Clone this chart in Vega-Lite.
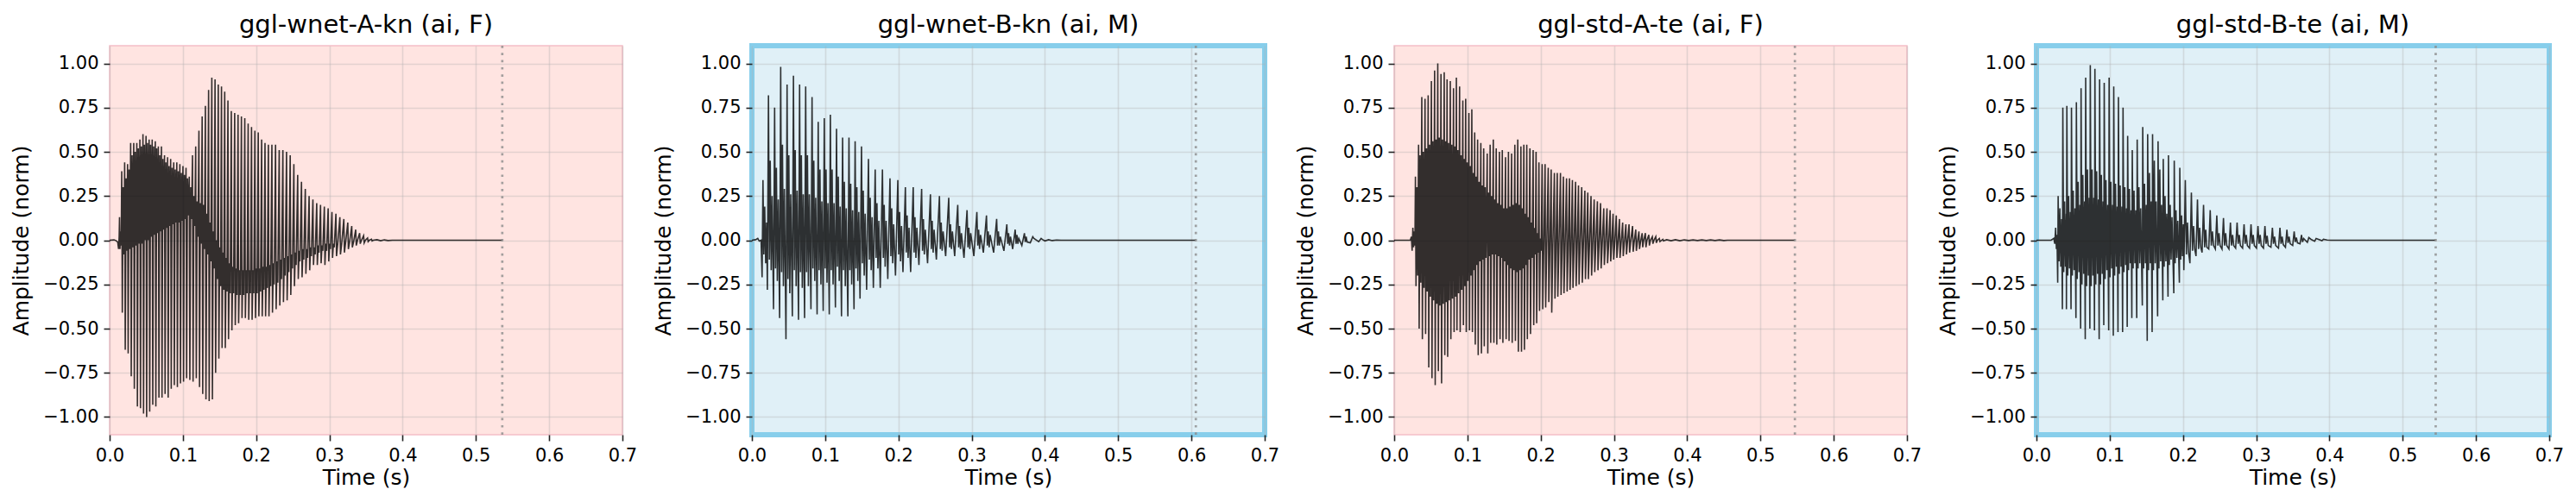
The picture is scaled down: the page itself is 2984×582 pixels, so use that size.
{
  "$schema": "https://vega.github.io/schema/vega-lite/v6.json",
  "background": "white",
  "padding": {"left": 11, "top": 11, "right": 5, "bottom": 5},
  "spacing": 150,
  "bounds": "flush",
  "config": {
    "font": "DejaVu Sans",
    "view": {"stroke": null},
    "axis": {
      "domain": false,
      "grid": true,
      "gridColor": "#b0b0b0",
      "gridOpacity": 0.35,
      "gridWidth": 1.6,
      "tickColor": "#222222",
      "tickSize": 7,
      "tickWidth": 1.6,
      "labelFont": "DejaVu Sans",
      "labelFontSize": 21,
      "labelColor": "#000000",
      "labelPadding": 6,
      "titleFont": "DejaVu Sans",
      "titleFontSize": 25,
      "titleFontWeight": "normal",
      "titleColor": "#000000"
    },
    "axisX": {"labelFlush": false, "titlePadding": 3},
    "axisY": {"titlePadding": 12},
    "title": {"font": "DejaVu Sans", "fontSize": 29, "fontWeight": "normal", "color": "#000000", "offset": 8, "anchor": "middle", "frame": "group"}
  },
  "datasets": {
    "w1": [
      {"t":0,"a":0},{"t":0.006,"a":0.002},{"t":0.009,"a":-0.003},{"t":0.011,"a":-0.01},{"t":0.0122,"a":-0.05},{"t":0.013,"a":0.02},
      {"t":0.0135,"a":0.13},{"t":0.0141,"a":-0.05},{"t":0.015,"a":0.05},{"t":0.0158,"a":-0.03},
      {"t":0.0165,"a":0.39},{"t":0.0173,"a":-0.41},{"t":0.0185,"a":0.3},{"t":0.0196,"a":-0.08},
      {"t":0.0205,"a":0.44},{"t":0.0213,"a":-0.62},{"t":0.0225,"a":0.35},{"t":0.0236,"a":-0.06},
      {"t":0.0245,"a":0.43},{"t":0.0253,"a":-0.64},{"t":0.0265,"a":0.4},{"t":0.0276,"a":-0.05},
      {"t":0.0287,"a":0.55},{"t":0.0295,"a":-0.77},{"t":0.0307,"a":0.48},{"t":0.0318,"a":-0.04},
      {"t":0.0329,"a":0.55},{"t":0.0337,"a":-0.84},{"t":0.0349,"a":0.5},{"t":0.036,"a":-0.03},
      {"t":0.0371,"a":0.55},{"t":0.0379,"a":-0.94},{"t":0.0391,"a":0.52},{"t":0.0402,"a":-0.02},
      {"t":0.0413,"a":0.57},{"t":0.0421,"a":-0.95},{"t":0.0433,"a":0.53},{"t":0.0444,"a":-0.02},
      {"t":0.0455,"a":0.6},{"t":0.0463,"a":-0.98},{"t":0.0475,"a":0.54},{"t":0.0486,"a":0},
      {"t":0.0497,"a":0.59},{"t":0.0505,"a":-1.0},{"t":0.0517,"a":0.55},{"t":0.0528,"a":0},
      {"t":0.0539,"a":0.57},{"t":0.0547,"a":-0.97},{"t":0.0559,"a":0.54},{"t":0.057,"a":0.02},
      {"t":0.0581,"a":0.57},{"t":0.0589,"a":-0.93},{"t":0.0601,"a":0.53},{"t":0.0612,"a":0.03},
      {"t":0.0623,"a":0.56},{"t":0.0631,"a":-0.94},{"t":0.0643,"a":0.52},{"t":0.0654,"a":0.04},
      {"t":0.0665,"a":0.53},{"t":0.0673,"a":-0.89},{"t":0.0685,"a":0.48},{"t":0.0696,"a":0.05},
      {"t":0.0707,"a":0.53},{"t":0.0715,"a":-0.89},{"t":0.0727,"a":0.46},{"t":0.0738,"a":0.06},
      {"t":0.0749,"a":0.48},{"t":0.0757,"a":-0.87},{"t":0.0769,"a":0.44},{"t":0.078,"a":0.07},
      {"t":0.0791,"a":0.47},{"t":0.0799,"a":-0.89},{"t":0.0811,"a":0.42},{"t":0.0822,"a":0.08},
      {"t":0.0833,"a":0.46},{"t":0.0841,"a":-0.84},{"t":0.0853,"a":0.41},{"t":0.0864,"a":0.09},
      {"t":0.0875,"a":0.44},{"t":0.0883,"a":-0.82},{"t":0.0895,"a":0.4},{"t":0.0906,"a":0.1},
      {"t":0.0917,"a":0.44},{"t":0.0925,"a":-0.83},{"t":0.0937,"a":0.39},{"t":0.0948,"a":0.1},
      {"t":0.0959,"a":0.43},{"t":0.0967,"a":-0.81},{"t":0.0979,"a":0.38},{"t":0.099,"a":0.11},
      {"t":0.1001,"a":0.42},{"t":0.1009,"a":-0.8},{"t":0.1021,"a":0.37},{"t":0.1032,"a":0.12},
      {"t":0.1043,"a":0.41},{"t":0.1051,"a":-0.78},{"t":0.1063,"a":0.35},{"t":0.1074,"a":0.14},
      {"t":0.1087,"a":0.36},{"t":0.1095,"a":-0.79},{"t":0.1107,"a":0.3},{"t":0.1118,"a":0.12},
      {"t":0.1131,"a":0.48},{"t":0.1139,"a":-0.8},{"t":0.1151,"a":0.25},{"t":0.1162,"a":0.08},
      {"t":0.1175,"a":0.53},{"t":0.1183,"a":-0.78},{"t":0.1195,"a":0.22},{"t":0.1206,"a":0.02},
      {"t":0.1219,"a":0.62},{"t":0.1227,"a":-0.83},{"t":0.1239,"a":0.21},{"t":0.125,"a":-0.02},
      {"t":0.1263,"a":0.7},{"t":0.1271,"a":-0.87},{"t":0.1283,"a":0.2},{"t":0.1294,"a":-0.05},
      {"t":0.1307,"a":0.76},{"t":0.1315,"a":-0.9},{"t":0.1327,"a":0.15},{"t":0.1338,"a":-0.08},
      {"t":0.1351,"a":0.85},{"t":0.1359,"a":-0.91},{"t":0.1371,"a":0.1},{"t":0.1382,"a":-0.12},
      {"t":0.1395,"a":0.92},{"t":0.1403,"a":-0.9},{"t":0.1415,"a":0.05},{"t":0.1426,"a":-0.16},
      {"t":0.1439,"a":0.91},{"t":0.1447,"a":-0.75},{"t":0.1459,"a":0},{"t":0.147,"a":-0.22},
      {"t":0.1483,"a":0.88},{"t":0.1491,"a":-0.67},{"t":0.1503,"a":-0.04},{"t":0.1514,"a":-0.26},
      {"t":0.1527,"a":0.87},{"t":0.1535,"a":-0.61},{"t":0.1547,"a":-0.07},{"t":0.1558,"a":-0.28},
      {"t":0.1571,"a":0.84},{"t":0.1579,"a":-0.61},{"t":0.1591,"a":-0.1},{"t":0.1602,"a":-0.29},
      {"t":0.1615,"a":0.79},{"t":0.1623,"a":-0.56},{"t":0.1635,"a":-0.13},{"t":0.1646,"a":-0.3},
      {"t":0.1661,"a":0.73},{"t":0.1669,"a":-0.51},{"t":0.1681,"a":-0.15},{"t":0.1692,"a":-0.3},
      {"t":0.1707,"a":0.72},{"t":0.1715,"a":-0.48},{"t":0.1727,"a":-0.16},{"t":0.1738,"a":-0.31},
      {"t":0.1753,"a":0.71},{"t":0.1761,"a":-0.47},{"t":0.1773,"a":-0.17},{"t":0.1784,"a":-0.31},
      {"t":0.1799,"a":0.7},{"t":0.1807,"a":-0.44},{"t":0.1819,"a":-0.17},{"t":0.183,"a":-0.31},
      {"t":0.1845,"a":0.69},{"t":0.1853,"a":-0.44},{"t":0.1865,"a":-0.17},{"t":0.1876,"a":-0.3},
      {"t":0.1891,"a":0.66},{"t":0.1899,"a":-0.45},{"t":0.1911,"a":-0.17},{"t":0.1922,"a":-0.3},
      {"t":0.1937,"a":0.64},{"t":0.1945,"a":-0.45},{"t":0.1957,"a":-0.17},{"t":0.1968,"a":-0.3},
      {"t":0.1983,"a":0.62},{"t":0.1991,"a":-0.44},{"t":0.2003,"a":-0.16},{"t":0.2014,"a":-0.3},
      {"t":0.2029,"a":0.61},{"t":0.2037,"a":-0.43},{"t":0.2049,"a":-0.16},{"t":0.206,"a":-0.29},
      {"t":0.2075,"a":0.57},{"t":0.2083,"a":-0.43},{"t":0.2095,"a":-0.15},{"t":0.2106,"a":-0.28},
      {"t":0.2121,"a":0.55},{"t":0.2129,"a":-0.43},{"t":0.2141,"a":-0.15},{"t":0.2152,"a":-0.27},
      {"t":0.2167,"a":0.54},{"t":0.2175,"a":-0.43},{"t":0.2187,"a":-0.14},{"t":0.2198,"a":-0.26},
      {"t":0.2215,"a":0.54},{"t":0.2223,"a":-0.41},{"t":0.2235,"a":-0.13},{"t":0.2246,"a":-0.25},
      {"t":0.2265,"a":0.54},{"t":0.2273,"a":-0.39},{"t":0.2285,"a":-0.12},{"t":0.2296,"a":-0.24},
      {"t":0.2315,"a":0.51},{"t":0.2323,"a":-0.37},{"t":0.2335,"a":-0.11},{"t":0.2346,"a":-0.22},
      {"t":0.2365,"a":0.51},{"t":0.2373,"a":-0.35},{"t":0.2385,"a":-0.1},{"t":0.2396,"a":-0.2},
      {"t":0.2415,"a":0.5},{"t":0.2423,"a":-0.34},{"t":0.2435,"a":-0.09},{"t":0.2446,"a":-0.18},
      {"t":0.2465,"a":0.48},{"t":0.2473,"a":-0.31},{"t":0.2485,"a":-0.08},{"t":0.2496,"a":-0.16},
      {"t":0.2515,"a":0.43},{"t":0.2523,"a":-0.26},{"t":0.2535,"a":-0.07},{"t":0.2546,"a":-0.14},
      {"t":0.2567,"a":0.37},{"t":0.2575,"a":-0.22},{"t":0.2587,"a":-0.06},{"t":0.2598,"a":-0.12},
      {"t":0.2619,"a":0.33},{"t":0.2627,"a":-0.21},{"t":0.2639,"a":-0.05},{"t":0.265,"a":-0.11},
      {"t":0.2671,"a":0.29},{"t":0.2679,"a":-0.19},{"t":0.2691,"a":-0.05},{"t":0.2702,"a":-0.1},
      {"t":0.2723,"a":0.25},{"t":0.2731,"a":-0.17},{"t":0.2743,"a":-0.04},{"t":0.2754,"a":-0.09},
      {"t":0.2775,"a":0.23},{"t":0.2783,"a":-0.14},{"t":0.2795,"a":-0.04},{"t":0.2806,"a":-0.08},
      {"t":0.2827,"a":0.21},{"t":0.2835,"a":-0.14},{"t":0.2847,"a":-0.03},{"t":0.2858,"a":-0.07},
      {"t":0.2879,"a":0.2},{"t":0.2887,"a":-0.13},{"t":0.2899,"a":-0.03},{"t":0.291,"a":-0.06},
      {"t":0.2931,"a":0.19},{"t":0.2939,"a":-0.14},{"t":0.2951,"a":-0.02},{"t":0.2962,"a":-0.06},
      {"t":0.2983,"a":0.18},{"t":0.2991,"a":-0.12},{"t":0.3003,"a":-0.02},{"t":0.3014,"a":-0.05},
      {"t":0.3035,"a":0.16},{"t":0.3043,"a":-0.1},{"t":0.3055,"a":-0.02},{"t":0.3066,"a":-0.04},
      {"t":0.3089,"a":0.15},{"t":0.3097,"a":-0.09},{"t":0.3114,"a":-0.02},
      {"t":0.3143,"a":0.13},{"t":0.3151,"a":-0.08},{"t":0.3168,"a":-0.02},
      {"t":0.3197,"a":0.12},{"t":0.3205,"a":-0.07},{"t":0.3222,"a":-0.01},
      {"t":0.3251,"a":0.1},{"t":0.3259,"a":-0.05},{"t":0.3276,"a":-0.01},
      {"t":0.3305,"a":0.08},{"t":0.3313,"a":-0.04},{"t":0.333,"a":-0.01},
      {"t":0.3359,"a":0.06},{"t":0.3367,"a":-0.03},{"t":0.3384,"a":0},
      {"t":0.3413,"a":0.04},{"t":0.3421,"a":-0.02},{"t":0.3438,"a":0},
      {"t":0.3467,"a":0.025},{"t":0.3475,"a":-0.015},{"t":0.3492,"a":0},
      {"t":0.3521,"a":0.012},{"t":0.3529,"a":-0.008},{"t":0.3546,"a":0},
      {"t":0.3575,"a":0.006},{"t":0.3583,"a":-0.004},{"t":0.36,"a":0},
      {"t":0.365,"a":0.003},{"t":0.37,"a":-0.003},{"t":0.375,"a":0.002},{"t":0.38,"a":-0.002},{"t":0.386,"a":0},{"t":0.536,"a":0}
    ],
    "w2": [
      {"t":0,"a":0},{"t":0.005,"a":0.003},{"t":0.008,"a":0.01},{"t":0.01,"a":-0.005},{"t":0.0125,"a":0},
      {"t":0.0139,"a":-0.21},{"t":0.0151,"a":0.34},{"t":0.0163,"a":-0.08},{"t":0.0175,"a":0.19},{"t":0.0188,"a":-0.13},{"t":0.0201,"a":0.1},
      {"t":0.0211,"a":-0.28},{"t":0.0226,"a":0.82},{"t":0.0238,"a":-0.11},{"t":0.025,"a":0.45},{"t":0.0263,"a":-0.17},{"t":0.0276,"a":0.25},
      {"t":0.0295,"a":-0.39},{"t":0.031,"a":0.75},{"t":0.0322,"a":-0.16},{"t":0.0334,"a":0.41},{"t":0.0347,"a":-0.23},{"t":0.036,"a":0.23},
      {"t":0.0378,"a":-0.44},{"t":0.0393,"a":0.98},{"t":0.0405,"a":-0.18},{"t":0.0417,"a":0.54},{"t":0.043,"a":-0.26},{"t":0.0443,"a":0.29},
      {"t":0.0465,"a":-0.56},{"t":0.048,"a":0.88},{"t":0.0492,"a":-0.22},{"t":0.0504,"a":0.48},{"t":0.0517,"a":-0.3},{"t":0.053,"a":0.26},
      {"t":0.0552,"a":-0.43},{"t":0.0567,"a":0.93},{"t":0.0579,"a":-0.17},{"t":0.0591,"a":0.51},{"t":0.0604,"a":-0.26},{"t":0.0617,"a":0.28},
      {"t":0.0636,"a":-0.45},{"t":0.0651,"a":0.88},{"t":0.0663,"a":-0.18},{"t":0.0675,"a":0.48},{"t":0.0688,"a":-0.27},{"t":0.0701,"a":0.26},
      {"t":0.0719,"a":-0.44},{"t":0.0734,"a":0.87},{"t":0.0746,"a":-0.18},{"t":0.0758,"a":0.48},{"t":0.0771,"a":-0.26},{"t":0.0784,"a":0.26},
      {"t":0.0806,"a":-0.39},{"t":0.0821,"a":0.81},{"t":0.0833,"a":-0.16},{"t":0.0845,"a":0.45},{"t":0.0858,"a":-0.23},{"t":0.0871,"a":0.24},
      {"t":0.089,"a":-0.42},{"t":0.0905,"a":0.67},{"t":0.0917,"a":-0.17},{"t":0.0929,"a":0.4},{"t":0.0942,"a":-0.25},{"t":0.0955,"a":0.22},
      {"t":0.0973,"a":-0.4},{"t":0.0988,"a":0.69},{"t":0.1,"a":-0.16},{"t":0.1012,"a":0.4},{"t":0.1025,"a":-0.24},{"t":0.1038,"a":0.21},
      {"t":0.1056,"a":-0.42},{"t":0.1071,"a":0.71},{"t":0.1083,"a":-0.17},{"t":0.1095,"a":0.4},{"t":0.1108,"a":-0.25},{"t":0.1121,"a":0.21},
      {"t":0.114,"a":-0.38},{"t":0.1155,"a":0.63},{"t":0.1167,"a":-0.15},{"t":0.1179,"a":0.36},{"t":0.1192,"a":-0.23},{"t":0.1205,"a":0.19},
      {"t":0.1223,"a":-0.43},{"t":0.1238,"a":0.58},{"t":0.125,"a":-0.17},{"t":0.1262,"a":0.33},{"t":0.1275,"a":-0.26},{"t":0.1288,"a":0.18},
      {"t":0.131,"a":-0.43},{"t":0.1325,"a":0.58},{"t":0.1337,"a":-0.17},{"t":0.1349,"a":0.32},{"t":0.1362,"a":-0.25},{"t":0.1375,"a":0.17},
      {"t":0.1394,"a":-0.39},{"t":0.1409,"a":0.56},{"t":0.1421,"a":-0.16},{"t":0.1433,"a":0.3},{"t":0.1446,"a":-0.23},{"t":0.1459,"a":0.16},
      {"t":0.1476,"a":-0.33},{"t":0.1496,"a":0.53},{"t":0.1508,"a":-0.13},{"t":0.152,"a":0.28},{"t":0.1533,"a":-0.2},{"t":0.1546,"a":0.15},
      {"t":0.1566,"a":-0.28},{"t":0.1591,"a":0.46},{"t":0.1603,"a":-0.11},{"t":0.1615,"a":0.24},{"t":0.1628,"a":-0.17},{"t":0.1641,"a":0.13},
      {"t":0.1658,"a":-0.27},{"t":0.1683,"a":0.4},{"t":0.1695,"a":-0.1},{"t":0.1707,"a":0.21},{"t":0.172,"a":-0.16},{"t":0.1733,"a":0.11},
      {"t":0.1752,"a":-0.27},{"t":0.1782,"a":0.4},{"t":0.1794,"a":-0.1},{"t":0.1806,"a":0.2},{"t":0.1819,"a":-0.15},{"t":0.1832,"a":0.11},
      {"t":0.1855,"a":-0.22},{"t":0.1885,"a":0.35},{"t":0.1897,"a":-0.09},{"t":0.1909,"a":0.18},{"t":0.1922,"a":-0.13},{"t":0.1935,"a":0.09},
      {"t":0.196,"a":-0.2},{"t":0.1992,"a":0.34},{"t":0.2004,"a":-0.08},{"t":0.2016,"a":0.16},{"t":0.2029,"a":-0.12},{"t":0.2042,"a":0.08},
      {"t":0.2062,"a":-0.18},{"t":0.2095,"a":0.3},{"t":0.2107,"a":-0.07},{"t":0.2119,"a":0.14},{"t":0.2132,"a":-0.1},{"t":0.2145,"a":0.07},
      {"t":0.2167,"a":-0.18},{"t":0.2202,"a":0.3},{"t":0.2214,"a":-0.07},{"t":0.2226,"a":0.13},{"t":0.2239,"a":-0.1},{"t":0.2252,"a":0.07},
      {"t":0.228,"a":-0.14},{"t":0.2317,"a":0.29},{"t":0.2329,"a":-0.06},{"t":0.2341,"a":0.12},{"t":0.2354,"a":-0.08},{"t":0.2367,"a":0.06},
      {"t":0.2398,"a":-0.13},{"t":0.2437,"a":0.26},{"t":0.2449,"a":-0.05},{"t":0.2461,"a":0.11},{"t":0.2474,"a":-0.07},{"t":0.2487,"a":0.06},
      {"t":0.2518,"a":-0.11},{"t":0.256,"a":0.25},{"t":0.2572,"a":-0.05},{"t":0.2584,"a":0.1},{"t":0.2597,"a":-0.06},{"t":0.261,"a":0.05},
      {"t":0.2645,"a":-0.09},{"t":0.2687,"a":0.24},{"t":0.2699,"a":-0.04},{"t":0.2711,"a":0.09},{"t":0.2724,"a":-0.05},{"t":0.2737,"a":0.05},
      {"t":0.2768,"a":-0.09},{"t":0.281,"a":0.2},{"t":0.2822,"a":-0.04},{"t":0.2834,"a":0.08},{"t":0.2847,"a":-0.05},{"t":0.286,"a":0.04},
      {"t":0.2895,"a":-0.1},{"t":0.2937,"a":0.17},{"t":0.2949,"a":-0.04},{"t":0.2961,"a":0.07},{"t":0.2974,"a":-0.05},{"t":0.2987,"a":0.04},
      {"t":0.303,"a":-0.09},{"t":0.3071,"a":0.16},{"t":0.3083,"a":-0.03},{"t":0.3095,"a":0.06},{"t":0.3108,"a":-0.05},{"t":0.3121,"a":0.03},
      {"t":0.316,"a":-0.07},{"t":0.3202,"a":0.14},{"t":0.3214,"a":-0.03},{"t":0.3226,"a":0.05},{"t":0.3239,"a":-0.04},{"t":0.3252,"a":0.03},
      {"t":0.33,"a":-0.07},{"t":0.3341,"a":0.12},{"t":0.3353,"a":-0.03},{"t":0.3365,"a":0.05},{"t":0.3378,"a":-0.03},{"t":0.3391,"a":0.02},
      {"t":0.344,"a":-0.06},{"t":0.348,"a":0.09},{"t":0.3492,"a":-0.02},{"t":0.3504,"a":0.04},{"t":0.3517,"a":-0.03},{"t":0.353,"a":0.02},
      {"t":0.356,"a":-0.05},{"t":0.3594,"a":0.06},{"t":0.3606,"a":-0.02},{"t":0.3618,"a":0.03},{"t":0.3631,"a":-0.02},{"t":0.3644,"a":0.01},
      {"t":0.3685,"a":-0.03},{"t":0.372,"a":0.04},{"t":0.3732,"a":-0.01},{"t":0.3744,"a":0.02},{"t":0.3757,"a":-0.01},
      {"t":0.38,"a":-0.015},{"t":0.3834,"a":0.02},{"t":0.385,"a":0.01},
      {"t":0.3915,"a":-0.008},{"t":0.3948,"a":0.01},{"t":0.3965,"a":0.004},
      {"t":0.4,"a":-0.004},{"t":0.405,"a":0.003},{"t":0.41,"a":-0.002},{"t":0.416,"a":0.001},{"t":0.422,"a":0},{"t":0.606,"a":0}
    ],
    "w3": [
      {"t":0,"a":0},{"t":0.022,"a":0},{"t":0.0235,"a":0.02},{"t":0.0245,"a":-0.06},{"t":0.0255,"a":0.07},{"t":0.0265,"a":-0.04},{"t":0.0275,"a":0.05},{"t":0.0283,"a":-0.03},
      {"t":0.029,"a":0.36},{"t":0.0298,"a":-0.26},{"t":0.031,"a":0.3},{"t":0.032,"a":-0.2},
      {"t":0.0333,"a":0.54},{"t":0.0341,"a":-0.5},{"t":0.0353,"a":0.48},{"t":0.0363,"a":-0.24},
      {"t":0.0377,"a":0.81},{"t":0.0385,"a":-0.56},{"t":0.0397,"a":0.5},{"t":0.0407,"a":-0.27},
      {"t":0.0421,"a":0.8},{"t":0.0429,"a":-0.53},{"t":0.0441,"a":0.52},{"t":0.0451,"a":-0.29},
      {"t":0.0464,"a":0.82},{"t":0.0472,"a":-0.72},{"t":0.0484,"a":0.54},{"t":0.0494,"a":-0.32},
      {"t":0.0508,"a":0.9},{"t":0.0516,"a":-0.78},{"t":0.0528,"a":0.56},{"t":0.0538,"a":-0.34},
      {"t":0.0552,"a":0.96},{"t":0.056,"a":-0.82},{"t":0.0572,"a":0.57},{"t":0.0582,"a":-0.36},
      {"t":0.0595,"a":1.0},{"t":0.0603,"a":-0.74},{"t":0.0615,"a":0.58},{"t":0.0625,"a":-0.37},
      {"t":0.0639,"a":0.94},{"t":0.0647,"a":-0.81},{"t":0.0659,"a":0.57},{"t":0.0669,"a":-0.36},
      {"t":0.0683,"a":0.95},{"t":0.0691,"a":-0.65},{"t":0.0703,"a":0.56},{"t":0.0713,"a":-0.35},
      {"t":0.0722,"a":0.91},{"t":0.073,"a":-0.66},{"t":0.0742,"a":0.55},{"t":0.0752,"a":-0.34},
      {"t":0.0766,"a":0.9},{"t":0.0774,"a":-0.56},{"t":0.0786,"a":0.54},{"t":0.0796,"a":-0.33},
      {"t":0.081,"a":0.86},{"t":0.0818,"a":-0.52},{"t":0.083,"a":0.53},{"t":0.084,"a":-0.32},
      {"t":0.0849,"a":0.92},{"t":0.0857,"a":-0.51},{"t":0.0869,"a":0.51},{"t":0.0879,"a":-0.3},
      {"t":0.0893,"a":0.87},{"t":0.0901,"a":-0.52},{"t":0.0913,"a":0.48},{"t":0.0923,"a":-0.28},
      {"t":0.0937,"a":0.79},{"t":0.0945,"a":-0.48},{"t":0.0957,"a":0.46},{"t":0.0967,"a":-0.26},
      {"t":0.0976,"a":0.8},{"t":0.0984,"a":-0.52},{"t":0.0996,"a":0.44},{"t":0.1006,"a":-0.23},
      {"t":0.102,"a":0.72},{"t":0.1028,"a":-0.51},{"t":0.104,"a":0.42},{"t":0.105,"a":-0.2},
      {"t":0.106,"a":0.74},{"t":0.1068,"a":-0.52},{"t":0.108,"a":0.38},{"t":0.109,"a":-0.17},
      {"t":0.1099,"a":0.61},{"t":0.1107,"a":-0.59},{"t":0.1119,"a":0.36},{"t":0.1129,"a":-0.14},
      {"t":0.1139,"a":0.57},{"t":0.1147,"a":-0.65},{"t":0.1159,"a":0.33},{"t":0.1169,"a":-0.12},
      {"t":0.1183,"a":0.55},{"t":0.1191,"a":-0.64},{"t":0.1203,"a":0.31},{"t":0.1213,"a":-0.11},
      {"t":0.1222,"a":0.52},{"t":0.123,"a":-0.6},{"t":0.1242,"a":0.3},{"t":0.1252,"a":-0.1},
      {"t":0.127,"a":0.49},{"t":0.1278,"a":-0.64},{"t":0.129,"a":0.27},{"t":0.13,"a":-0.09},
      {"t":0.131,"a":0.54},{"t":0.1318,"a":-0.58},{"t":0.133,"a":0.25},{"t":0.134,"a":-0.08},
      {"t":0.1353,"a":0.57},{"t":0.1361,"a":-0.58},{"t":0.1373,"a":0.23},{"t":0.1383,"a":-0.08},
      {"t":0.1393,"a":0.52},{"t":0.1401,"a":-0.59},{"t":0.1413,"a":0.21},{"t":0.1423,"a":-0.09},
      {"t":0.1437,"a":0.5},{"t":0.1445,"a":-0.56},{"t":0.1457,"a":0.2},{"t":0.1467,"a":-0.1},
      {"t":0.1476,"a":0.51},{"t":0.1484,"a":-0.58},{"t":0.1496,"a":0.18},{"t":0.1506,"a":-0.12},
      {"t":0.152,"a":0.47},{"t":0.1528,"a":-0.56},{"t":0.154,"a":0.18},{"t":0.155,"a":-0.14},
      {"t":0.156,"a":0.5},{"t":0.1568,"a":-0.57},{"t":0.158,"a":0.19},{"t":0.159,"a":-0.16},
      {"t":0.1603,"a":0.49},{"t":0.1611,"a":-0.58},{"t":0.1623,"a":0.2},{"t":0.1633,"a":-0.17},
      {"t":0.1647,"a":0.54},{"t":0.1655,"a":-0.57},{"t":0.1667,"a":0.21},{"t":0.1677,"a":-0.18},
      {"t":0.1687,"a":0.57},{"t":0.1695,"a":-0.63},{"t":0.1707,"a":0.2},{"t":0.1717,"a":-0.17},
      {"t":0.173,"a":0.53},{"t":0.1738,"a":-0.63},{"t":0.175,"a":0.18},{"t":0.176,"a":-0.16},
      {"t":0.177,"a":0.54},{"t":0.1778,"a":-0.62},{"t":0.179,"a":0.15},{"t":0.18,"a":-0.14},
      {"t":0.181,"a":0.54},{"t":0.1818,"a":-0.56},{"t":0.183,"a":0.13},{"t":0.184,"a":-0.11},
      {"t":0.1853,"a":0.52},{"t":0.1861,"a":-0.53},{"t":0.1873,"a":0.1},{"t":0.1883,"a":-0.1},
      {"t":0.1897,"a":0.51},{"t":0.1905,"a":-0.48},{"t":0.1917,"a":0.07},{"t":0.1927,"a":-0.08},
      {"t":0.1937,"a":0.5},{"t":0.1945,"a":-0.47},{"t":0.1957,"a":0.04},{"t":0.1967,"a":-0.07},
      {"t":0.1976,"a":0.44},{"t":0.1984,"a":-0.4},{"t":0.1996,"a":0.01},{"t":0.2006,"a":-0.06},
      {"t":0.202,"a":0.43},{"t":0.2028,"a":-0.39},{"t":0.2042,"a":-0.05},
      {"t":0.206,"a":0.43},{"t":0.2068,"a":-0.38},{"t":0.2082,"a":-0.05},
      {"t":0.2103,"a":0.41},{"t":0.2111,"a":-0.35},{"t":0.2125,"a":-0.05},
      {"t":0.2143,"a":0.4},{"t":0.2151,"a":-0.41},{"t":0.2165,"a":-0.05},
      {"t":0.2187,"a":0.38},{"t":0.2195,"a":-0.33},{"t":0.2209,"a":-0.05},
      {"t":0.2226,"a":0.38},{"t":0.2234,"a":-0.32},{"t":0.2248,"a":-0.05},
      {"t":0.227,"a":0.38},{"t":0.2278,"a":-0.31},{"t":0.2292,"a":-0.05},
      {"t":0.231,"a":0.36},{"t":0.2318,"a":-0.3},{"t":0.2332,"a":-0.05},
      {"t":0.2353,"a":0.35},{"t":0.2361,"a":-0.29},{"t":0.2375,"a":-0.05},
      {"t":0.2393,"a":0.35},{"t":0.2401,"a":-0.28},{"t":0.2415,"a":-0.05},
      {"t":0.2433,"a":0.34},{"t":0.2441,"a":-0.27},{"t":0.2455,"a":-0.05},
      {"t":0.2476,"a":0.33},{"t":0.2484,"a":-0.26},{"t":0.2498,"a":-0.04},
      {"t":0.2516,"a":0.31},{"t":0.2524,"a":-0.25},{"t":0.2538,"a":-0.04},
      {"t":0.256,"a":0.3},{"t":0.2568,"a":-0.24},{"t":0.2582,"a":-0.04},
      {"t":0.2603,"a":0.28},{"t":0.2611,"a":-0.22},{"t":0.2625,"a":-0.04},
      {"t":0.2643,"a":0.27},{"t":0.2651,"a":-0.22},{"t":0.2665,"a":-0.04},
      {"t":0.2687,"a":0.25},{"t":0.2695,"a":-0.2},{"t":0.2709,"a":-0.04},
      {"t":0.273,"a":0.23},{"t":0.2738,"a":-0.18},{"t":0.2752,"a":-0.03},
      {"t":0.2774,"a":0.22},{"t":0.2782,"a":-0.17},{"t":0.2796,"a":-0.03},
      {"t":0.2817,"a":0.21},{"t":0.2825,"a":-0.16},{"t":0.2839,"a":-0.03},
      {"t":0.2861,"a":0.18},{"t":0.2869,"a":-0.14},{"t":0.2883,"a":-0.03},
      {"t":0.2905,"a":0.18},{"t":0.2913,"a":-0.13},{"t":0.2927,"a":-0.03},
      {"t":0.2948,"a":0.17},{"t":0.2956,"a":-0.12},{"t":0.297,"a":-0.02},
      {"t":0.2988,"a":0.15},{"t":0.2996,"a":-0.11},{"t":0.301,"a":-0.02},
      {"t":0.3032,"a":0.14},{"t":0.304,"a":-0.1},{"t":0.3054,"a":-0.02},
      {"t":0.3075,"a":0.12},{"t":0.3083,"a":-0.1},{"t":0.3097,"a":-0.02},
      {"t":0.3119,"a":0.1},{"t":0.3127,"a":-0.09},{"t":0.3141,"a":-0.02},
      {"t":0.3163,"a":0.09},{"t":0.3171,"a":-0.08},{"t":0.3185,"a":-0.01},
      {"t":0.3206,"a":0.09},{"t":0.3214,"a":-0.07},{"t":0.3228,"a":-0.01},
      {"t":0.3254,"a":0.08},{"t":0.3262,"a":-0.065},{"t":0.3276,"a":-0.01},
      {"t":0.3298,"a":0.06},{"t":0.3306,"a":-0.06},{"t":0.332,"a":-0.01},
      {"t":0.3341,"a":0.05},{"t":0.3349,"a":-0.05},{"t":0.3363,"a":-0.01},
      {"t":0.3385,"a":0.04},{"t":0.3393,"a":-0.04},{"t":0.3407,"a":0},
      {"t":0.3429,"a":0.04},{"t":0.3437,"a":-0.04},{"t":0.3451,"a":0},
      {"t":0.3476,"a":0.03},{"t":0.3484,"a":-0.03},{"t":0.3498,"a":0},
      {"t":0.3524,"a":0.02},{"t":0.3532,"a":-0.02},{"t":0.3546,"a":0},
      {"t":0.3571,"a":0.02},{"t":0.3579,"a":-0.015},{"t":0.3593,"a":0},
      {"t":0.362,"a":0.01},{"t":0.3628,"a":-0.008},
      {"t":0.3668,"a":0.005},{"t":0.3676,"a":-0.004},
      {"t":0.372,"a":0.003},{"t":0.378,"a":-0.003},{"t":0.384,"a":0.003},{"t":0.39,"a":-0.003},{"t":0.396,"a":0.002},{"t":0.402,"a":-0.002},
      {"t":0.408,"a":0.002},{"t":0.414,"a":-0.002},{"t":0.42,"a":0.002},{"t":0.426,"a":-0.002},{"t":0.432,"a":0.002},{"t":0.438,"a":-0.002},
      {"t":0.444,"a":0.002},{"t":0.45,"a":-0.002},{"t":0.455,"a":0},{"t":0.547,"a":0}
    ],
    "w4": [
      {"t":0,"a":0},{"t":0.02,"a":0},{"t":0.0237,"a":0.01},{"t":0.025,"a":-0.02},{"t":0.0262,"a":0.07},{"t":0.0272,"a":-0.05},{"t":0.028,"a":0.03},
      {"t":0.029,"a":-0.24},{"t":0.0296,"a":0.25},{"t":0.0308,"a":-0.12},{"t":0.032,"a":0.18},{"t":0.0332,"a":-0.15},{"t":0.0344,"a":0.12},
      {"t":0.0354,"a":-0.39},{"t":0.036,"a":0.75},{"t":0.0372,"a":-0.18},{"t":0.0384,"a":0.22},{"t":0.0396,"a":-0.15},{"t":0.0408,"a":0.15},
      {"t":0.0409,"a":-0.39},{"t":0.0415,"a":0.76},{"t":0.0427,"a":-0.2},{"t":0.0439,"a":0.25},{"t":0.0451,"a":-0.16},{"t":0.0463,"a":0.16},
      {"t":0.0472,"a":-0.39},{"t":0.0478,"a":0.75},{"t":0.049,"a":-0.2},{"t":0.0502,"a":0.28},{"t":0.0514,"a":-0.17},{"t":0.0526,"a":0.18},
      {"t":0.0539,"a":-0.44},{"t":0.0545,"a":0.78},{"t":0.0557,"a":-0.22},{"t":0.0569,"a":0.33},{"t":0.0581,"a":-0.18},{"t":0.0593,"a":0.2},
      {"t":0.0603,"a":-0.5},{"t":0.0609,"a":0.86},{"t":0.0621,"a":-0.25},{"t":0.0633,"a":0.37},{"t":0.0645,"a":-0.19},{"t":0.0657,"a":0.22},
      {"t":0.0666,"a":-0.56},{"t":0.0672,"a":0.92},{"t":0.0684,"a":-0.26},{"t":0.0696,"a":0.4},{"t":0.0708,"a":-0.2},{"t":0.072,"a":0.24},
      {"t":0.0729,"a":-0.5},{"t":0.0735,"a":0.99},{"t":0.0747,"a":-0.26},{"t":0.0759,"a":0.4},{"t":0.0771,"a":-0.2},{"t":0.0783,"a":0.24},
      {"t":0.0792,"a":-0.51},{"t":0.0798,"a":0.97},{"t":0.081,"a":-0.25},{"t":0.0822,"a":0.39},{"t":0.0834,"a":-0.19},{"t":0.0846,"a":0.23},
      {"t":0.0856,"a":-0.56},{"t":0.0862,"a":0.91},{"t":0.0874,"a":-0.25},{"t":0.0886,"a":0.37},{"t":0.0898,"a":-0.19},{"t":0.091,"a":0.22},
      {"t":0.0919,"a":-0.48},{"t":0.0925,"a":0.89},{"t":0.0937,"a":-0.22},{"t":0.0949,"a":0.34},{"t":0.0961,"a":-0.17},{"t":0.0973,"a":0.2},
      {"t":0.0986,"a":-0.51},{"t":0.0992,"a":0.92},{"t":0.1004,"a":-0.21},{"t":0.1016,"a":0.33},{"t":0.1028,"a":-0.16},{"t":0.104,"a":0.2},
      {"t":0.1049,"a":-0.54},{"t":0.1055,"a":0.87},{"t":0.1067,"a":-0.2},{"t":0.1079,"a":0.32},{"t":0.1091,"a":-0.15},{"t":0.1103,"a":0.19},
      {"t":0.1113,"a":-0.52},{"t":0.1119,"a":0.81},{"t":0.1131,"a":-0.19},{"t":0.1143,"a":0.31},{"t":0.1155,"a":-0.15},{"t":0.1167,"a":0.19},
      {"t":0.1176,"a":-0.52},{"t":0.1182,"a":0.75},{"t":0.1194,"a":-0.18},{"t":0.1206,"a":0.3},{"t":0.1218,"a":-0.14},{"t":0.123,"a":0.18},
      {"t":0.1239,"a":-0.49},{"t":0.1245,"a":0.59},{"t":0.1257,"a":-0.17},{"t":0.1269,"a":0.29},{"t":0.1281,"a":-0.13},{"t":0.1293,"a":0.17},
      {"t":0.1302,"a":-0.44},{"t":0.1308,"a":0.51},{"t":0.132,"a":-0.16},{"t":0.1332,"a":0.28},{"t":0.1344,"a":-0.13},{"t":0.1356,"a":0.17},
      {"t":0.1369,"a":-0.44},{"t":0.1375,"a":0.57},{"t":0.1387,"a":-0.16},{"t":0.1399,"a":0.3},{"t":0.1411,"a":-0.13},{"t":0.1423,"a":0.18},
      {"t":0.1445,"a":-0.37},{"t":0.1451,"a":0.64},{"t":0.1463,"a":-0.16},{"t":0.1475,"a":0.32},{"t":0.1487,"a":-0.13},{"t":0.1499,"a":0.2},
      {"t":0.1512,"a":-0.57},{"t":0.1518,"a":0.6},{"t":0.153,"a":-0.17},{"t":0.1542,"a":0.38},{"t":0.1554,"a":-0.13},{"t":0.1566,"a":0.22},
      {"t":0.1579,"a":-0.52},{"t":0.1585,"a":0.6},{"t":0.1597,"a":-0.17},{"t":0.1609,"a":0.45},{"t":0.1621,"a":-0.13},{"t":0.1633,"a":0.22},
      {"t":0.1654,"a":-0.43},{"t":0.166,"a":0.56},{"t":0.1672,"a":-0.16},{"t":0.1684,"a":0.4},{"t":0.1696,"a":-0.12},{"t":0.1708,"a":0.2},
      {"t":0.1725,"a":-0.34},{"t":0.1731,"a":0.46},{"t":0.1743,"a":-0.15},{"t":0.1755,"a":0.25},{"t":0.1767,"a":-0.12},{"t":0.1779,"a":0.15},
      {"t":0.1796,"a":-0.32},{"t":0.1802,"a":0.48},{"t":0.1814,"a":-0.14},{"t":0.1826,"a":0.2},{"t":0.1838,"a":-0.11},{"t":0.185,"a":0.13},
      {"t":0.1875,"a":-0.3},{"t":0.1881,"a":0.45},{"t":0.1893,"a":-0.13},{"t":0.1905,"a":0.17},{"t":0.1917,"a":-0.1},{"t":0.1929,"a":0.11},
      {"t":0.1951,"a":-0.24},{"t":0.1957,"a":0.41},{"t":0.1969,"a":-0.11},{"t":0.1981,"a":0.14},{"t":0.1993,"a":-0.09},{"t":0.2005,"a":0.09},
      {"t":0.2012,"a":-0.17},{"t":0.2032,"a":0.34},{"t":0.2047,"a":-0.08},{"t":0.2062,"a":0.1},{"t":0.2077,"a":-0.07},
      {"t":0.2095,"a":-0.13},{"t":0.2115,"a":0.27},{"t":0.213,"a":-0.06},{"t":0.2145,"a":0.08},{"t":0.216,"a":-0.05},
      {"t":0.2178,"a":-0.09},{"t":0.2198,"a":0.23},{"t":0.2213,"a":-0.05},{"t":0.2228,"a":0.07},{"t":0.2243,"a":-0.04},
      {"t":0.2261,"a":-0.07},{"t":0.2281,"a":0.2},{"t":0.2296,"a":-0.04},{"t":0.2311,"a":0.06},{"t":0.2326,"a":-0.04},
      {"t":0.2352,"a":-0.05},{"t":0.2372,"a":0.17},{"t":0.2387,"a":-0.03},{"t":0.2402,"a":0.05},{"t":0.2417,"a":-0.03},
      {"t":0.2442,"a":-0.05},{"t":0.2462,"a":0.14},{"t":0.2477,"a":-0.03},{"t":0.2492,"a":0.04},{"t":0.2507,"a":-0.03},
      {"t":0.2533,"a":-0.05},{"t":0.2553,"a":0.125},{"t":0.2568,"a":-0.03},{"t":0.2583,"a":0.04},{"t":0.2598,"a":-0.03},
      {"t":0.2628,"a":-0.05},{"t":0.2648,"a":0.1},{"t":0.2663,"a":-0.03},{"t":0.2678,"a":0.03},{"t":0.2693,"a":-0.03},
      {"t":0.2719,"a":-0.045},{"t":0.2739,"a":0.1},{"t":0.2754,"a":-0.02},{"t":0.2769,"a":0.03},{"t":0.2784,"a":-0.03},
      {"t":0.2814,"a":-0.045},{"t":0.2834,"a":0.09},{"t":0.2849,"a":-0.02},{"t":0.2864,"a":0.03},{"t":0.2879,"a":-0.03},
      {"t":0.2909,"a":-0.045},{"t":0.2929,"a":0.09},{"t":0.2944,"a":-0.02},{"t":0.2959,"a":0.03},{"t":0.2974,"a":-0.03},
      {"t":0.3004,"a":-0.045},{"t":0.3024,"a":0.08},{"t":0.3039,"a":-0.02},{"t":0.3054,"a":0.03},{"t":0.3069,"a":-0.03},
      {"t":0.3099,"a":-0.045},{"t":0.3119,"a":0.08},{"t":0.3134,"a":-0.02},{"t":0.3149,"a":0.025},{"t":0.3164,"a":-0.03},
      {"t":0.3201,"a":-0.04},{"t":0.3221,"a":0.07},{"t":0.3236,"a":-0.02},{"t":0.3251,"a":0.02},{"t":0.3266,"a":-0.03},
      {"t":0.3304,"a":-0.045},{"t":0.3324,"a":0.07},{"t":0.3339,"a":-0.02},{"t":0.3354,"a":0.02},{"t":0.3369,"a":-0.025},
      {"t":0.3399,"a":-0.04},{"t":0.3419,"a":0.06},{"t":0.3434,"a":-0.015},{"t":0.3449,"a":0.02},{"t":0.3464,"a":-0.02},
      {"t":0.3498,"a":-0.03},{"t":0.3518,"a":0.05},{"t":0.3533,"a":-0.01},{"t":0.3548,"a":0.015},{"t":0.3563,"a":-0.015},
      {"t":0.3598,"a":-0.02},{"t":0.3618,"a":0.03},{"t":0.3633,"a":-0.01},{"t":0.3648,"a":0.01},
      {"t":0.3698,"a":-0.012},{"t":0.3718,"a":0.015},{"t":0.3748,"a":0.005},
      {"t":0.3798,"a":-0.006},{"t":0.3818,"a":0.01},
      {"t":0.3898,"a":-0.003},{"t":0.3918,"a":0.005},{"t":0.3968,"a":0.001},{"t":0.402,"a":0},{"t":0.545,"a":0}
    ]
  },
  "hconcat": [
    {
      "title": "ggl-wnet-A-kn (ai, F)",
      "width": 594,
      "height": 451,
      "view": {"fill": "#FFE4E1", "stroke": "#F5BFC8", "strokeWidth": 1.5},
      "encoding": {
        "x": {"field": "t", "type": "quantitative", "title": "Time (s)",
              "scale": {"domain": [0, 0.7], "nice": false, "zero": false},
              "axis": {"values": [0, 0.1, 0.2, 0.3, 0.4, 0.5, 0.6, 0.7], "format": ".1f"}}
      },
      "layer": [
        {"data": {"name": "w1"},
         "mark": {"type": "line", "color": "#000000", "opacity": 0.8, "strokeWidth": 1.6, "clip": true},
         "encoding": {"y": {"field": "a", "type": "quantitative", "title": "Amplitude (norm)",
                            "scale": {"domain": [-1.1, 1.1], "nice": false},
                            "axis": {"values": [-1, -0.75, -0.5, -0.25, 0, 0.25, 0.5, 0.75, 1], "format": ".2f"}}}},
        {"data": {"values": [{"t": 0.536}]},
         "mark": {"type": "rule", "color": "#8c8c8c", "opacity": 0.8, "strokeWidth": 2.7, "strokeDash": [2.7, 5.6]},
         "encoding": {}}
      ]
    },
    {
      "title": "ggl-wnet-B-kn (ai, M)",
      "width": 594,
      "height": 451,
      "view": {"fill": "#E0F0F7", "stroke": "#87CEEB", "strokeWidth": 6},
      "encoding": {
        "x": {"field": "t", "type": "quantitative", "title": "Time (s)",
              "scale": {"domain": [0, 0.7], "nice": false, "zero": false},
              "axis": {"values": [0, 0.1, 0.2, 0.3, 0.4, 0.5, 0.6, 0.7], "format": ".1f"}}
      },
      "layer": [
        {"data": {"name": "w2"},
         "mark": {"type": "line", "color": "#000000", "opacity": 0.8, "strokeWidth": 1.6, "clip": true},
         "encoding": {"y": {"field": "a", "type": "quantitative", "title": "Amplitude (norm)",
                            "scale": {"domain": [-1.1, 1.1], "nice": false},
                            "axis": {"values": [-1, -0.75, -0.5, -0.25, 0, 0.25, 0.5, 0.75, 1], "format": ".2f"}}}},
        {"data": {"values": [{"t": 0.606}]},
         "mark": {"type": "rule", "color": "#8c8c8c", "opacity": 0.8, "strokeWidth": 2.7, "strokeDash": [2.7, 5.6]},
         "encoding": {}}
      ]
    },
    {
      "title": "ggl-std-A-te (ai, F)",
      "width": 594,
      "height": 451,
      "view": {"fill": "#FFE4E1", "stroke": "#F5BFC8", "strokeWidth": 1.5},
      "encoding": {
        "x": {"field": "t", "type": "quantitative", "title": "Time (s)",
              "scale": {"domain": [0, 0.7], "nice": false, "zero": false},
              "axis": {"values": [0, 0.1, 0.2, 0.3, 0.4, 0.5, 0.6, 0.7], "format": ".1f"}}
      },
      "layer": [
        {"data": {"name": "w3"},
         "mark": {"type": "line", "color": "#000000", "opacity": 0.8, "strokeWidth": 1.6, "clip": true},
         "encoding": {"y": {"field": "a", "type": "quantitative", "title": "Amplitude (norm)",
                            "scale": {"domain": [-1.1, 1.1], "nice": false},
                            "axis": {"values": [-1, -0.75, -0.5, -0.25, 0, 0.25, 0.5, 0.75, 1], "format": ".2f"}}}},
        {"data": {"values": [{"t": 0.547}]},
         "mark": {"type": "rule", "color": "#8c8c8c", "opacity": 0.8, "strokeWidth": 2.7, "strokeDash": [2.7, 5.6]},
         "encoding": {}}
      ]
    },
    {
      "title": "ggl-std-B-te (ai, M)",
      "width": 594,
      "height": 451,
      "view": {"fill": "#E0F0F7", "stroke": "#87CEEB", "strokeWidth": 6},
      "encoding": {
        "x": {"field": "t", "type": "quantitative", "title": "Time (s)",
              "scale": {"domain": [0, 0.7], "nice": false, "zero": false},
              "axis": {"values": [0, 0.1, 0.2, 0.3, 0.4, 0.5, 0.6, 0.7], "format": ".1f"}}
      },
      "layer": [
        {"data": {"name": "w4"},
         "mark": {"type": "line", "color": "#000000", "opacity": 0.8, "strokeWidth": 1.6, "clip": true},
         "encoding": {"y": {"field": "a", "type": "quantitative", "title": "Amplitude (norm)",
                            "scale": {"domain": [-1.1, 1.1], "nice": false},
                            "axis": {"values": [-1, -0.75, -0.5, -0.25, 0, 0.25, 0.5, 0.75, 1], "format": ".2f"}}}},
        {"data": {"values": [{"t": 0.545}]},
         "mark": {"type": "rule", "color": "#8c8c8c", "opacity": 0.8, "strokeWidth": 2.7, "strokeDash": [2.7, 5.6]},
         "encoding": {}}
      ]
    }
  ]
}
